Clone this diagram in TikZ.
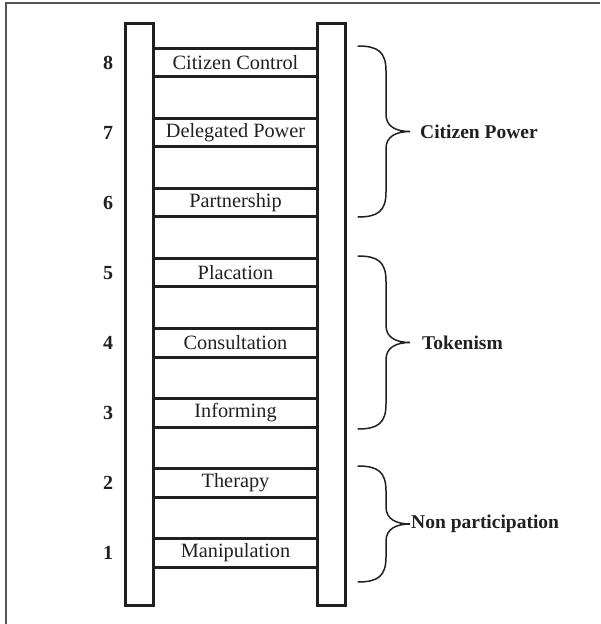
\documentclass[tikz,border=0pt]{standalone}
\usepackage{fontspec}
\setmainfont{Liberation Serif}
\usepackage{tikz}
\usetikzlibrary{positioning, calc}
\definecolor{ladderink}{HTML}{231F20}
\definecolor{framegray}{HTML}{555555}

\tikzset{
  rail/.style={draw=ladderink, line width=3pt, minimum width=28pt, minimum height=582pt, inner sep=0pt},
  rung/.style={minimum width=161pt, minimum height=28pt, inner sep=0pt, text=ladderink, font=\fontsize{20.3}{21}\selectfont},
  rungline/.style={ladderink, line width=3pt},
  level/.style={text=ladderink, font=\fontsize{20}{21}\selectfont\bfseries},
  group/.style={text=ladderink, anchor=west, inner sep=0pt, font=\fontsize{19.5}{20}\selectfont\bfseries},
  bracket/.style={ladderink, line width=1.5pt, line cap=round},
  pics/groupbrace/.style={code={
    \draw[bracket] (0,-#1) .. controls (20,-#1) and (28,-#1+6) .. (28,-#1+25)
      -- (28,-17) .. controls (28,-5) and (38,0) .. (52,0)
      .. controls (38,0) and (28,5) .. (28,17)
      -- (28,#1-25) .. controls (28,#1-6) and (20,#1) .. (0,#1);
  }},
}

\begin{document}
\begin{tikzpicture}[x=1pt, y=-1pt]
  \useasboundingbox (0,0) rectangle (600,624);

  % Outer frame (top and left edges only)
  \draw[framegray, line width=1.5pt] (6,624) -- (6,3) -- (600,3);

  % Ladder rails
  \node[rail] (lrail) at (139.5, 314.5) {};
  \node[rail] (rrail) at (331.5, 314.5) {};

  % Rungs, from the top down
  \node[rung] (r8) at (235.5, 62.5) {Citizen Control};
  \node[rung] (r7) at (235.5, 132.6) {Delegated Power};
  \node[rung] (r6) at (235.5, 202.7) {Partnership};
  \node[rung] (r5) at (235.5, 272.7) {Placation};
  \node[rung] (r4) at (235.5, 342.8) {Consultation};
  \node[rung] (r3) at (235.5, 412.9) {Informing};
  \node[rung] (r2) at (235.5, 482.9) {Therapy};
  \node[rung] (r1) at (235.5, 553.0) {Manipulation};

  % Rung lines between the rails
  \foreach \r in {r1,r2,r3,r4,r5,r6,r7,r8} {
    \draw[rungline] (\r.north -| lrail.east) -- (\r.north -| rrail.west);
    \draw[rungline] (\r.south -| lrail.east) -- (\r.south -| rrail.west);
  }

  % Level numbers
  \node[level] (n8) at (108, 62.5) {8};
  \node[level] (n7) at (108, 132.6) {7};
  \node[level] (n6) at (108, 202.7) {6};
  \node[level] (n5) at (108, 272.7) {5};
  \node[level] (n4) at (108, 342.8) {4};
  \node[level] (n3) at (108, 412.9) {3};
  \node[level] (n2) at (108, 482.9) {2};
  \node[level] (n1) at (108, 553.0) {1};

  % Group braces and labels
  \pic at (358, 131.5) {groupbrace=85.5};
  \node[group] (cpower) at (420, 131.5) {Citizen Power};

  \pic at (358, 342.5) {groupbrace=86.5};
  \node[group] (token) at (422, 342.5) {Tokenism};

  \pic at (358, 524) {groupbrace=58};
  \node[group] (nonpart) at (411, 524) {Non participation};
\end{tikzpicture}
\end{document}
